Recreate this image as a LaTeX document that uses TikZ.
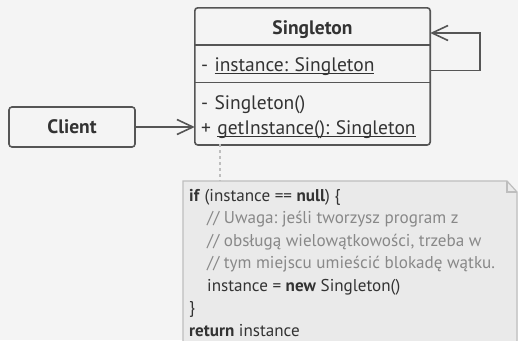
\documentclass[tikz,border=0pt]{standalone}
\usepackage{fontspec}
\setmainfont{PT Sans}
\usetikzlibrary{arrows.meta,positioning}
\definecolor{paper}{RGB}{244,244,244}
\definecolor{line}{RGB}{85,85,85}
\definecolor{txt}{RGB}{51,51,51}
\definecolor{notefill}{RGB}{234,234,234}
\definecolor{noteline}{RGB}{190,190,190}
\definecolor{comment}{RGB}{136,136,136}
\newcommand{\undl}[1]{\setbox0\hbox{#1}\rlap{\rule[-2.5pt]{\wd0}{1pt}}\box0}
\frenchspacing
\begin{document}
\begin{tikzpicture}[x=1pt,y=-1pt,font=\fontsize{19.5}{23}\selectfont,text=txt,part/.style={rectangle,minimum width=235pt,inner sep=0pt},box/.style={rectangle,rounded corners=3pt,draw=line,fill=paper,line width=1.6pt,minimum width=126pt,minimum height=40pt,font=\fontsize{19.5}{23}\selectfont\bfseries},arrow/.style={-{Straight Barb[length=16pt,width=15pt,line width=1.6pt]},line width=1.6pt,draw=line}]
\useasboundingbox[fill=paper] (0,0) rectangle (518,340);
% class Singleton
\node[part,minimum height=37pt,text height=20pt,text depth=4pt] (name) at (312.5,26.5) {\bfseries Singleton};
\node[part,minimum height=37pt,text height=20pt,text depth=4pt,below=0pt of name,text width=223pt,align=left] (attrs) {- \undl{instance: Singleton}};
\node[part,minimum height=62pt,below=0pt of attrs,text width=223pt,align=left] (ops) {\rule{0pt}{21pt}- Singleton()\\[2pt]+ \undl{getInstance(): Singleton}};
\draw[draw=line,line width=1.6pt,rounded corners=3pt] (name.north west) rectangle (ops.south east);
\draw[draw=line,line width=1.6pt] (attrs.north west) -- (attrs.north east);
\draw[draw=line,line width=1.6pt] (ops.north west) -- (ops.north east);
\node[box] (client) at (72,127) {Client};
\draw[arrow] (client) -- (client -| ops.west);
\draw[arrow] ([yshift=-6.5pt]attrs.east) -- ++(50,0) |- ([yshift=-6.5pt]name.east);
% note
\coordinate (fold) at (507,181);
\draw[draw=noteline,fill=notefill,line width=1.2pt] (183,181) -- (fold) -- (517,192) -- (517,346) -- (183,346) -- cycle;
\draw[draw=noteline,line width=1.2pt] (fold) -- (507,192) -- (517,192);
\draw[draw=noteline,line width=1.6pt,dash pattern=on 3pt off 3pt] (220,144) -- (220,181);
\node[anchor=north west,align=left,inner sep=0pt,font=\fontsize{17.1}{22.5}\selectfont] (code) at (189,189) {\textbf{if} (instance == \textbf{null}) \{\\
\hspace*{18pt}\textcolor{comment}{// Uwaga: jeśli tworzysz program z}\\
\hspace*{18pt}\textcolor{comment}{// obsługą wielowątkowości, trzeba w}\\
\hspace*{18pt}\textcolor{comment}{// tym miejscu umieścić blokadę wątku.}\\
\hspace*{18pt}instance = \textbf{new} Singleton()\\
\}\\
\textbf{return} instance};
\end{tikzpicture}
\end{document}
